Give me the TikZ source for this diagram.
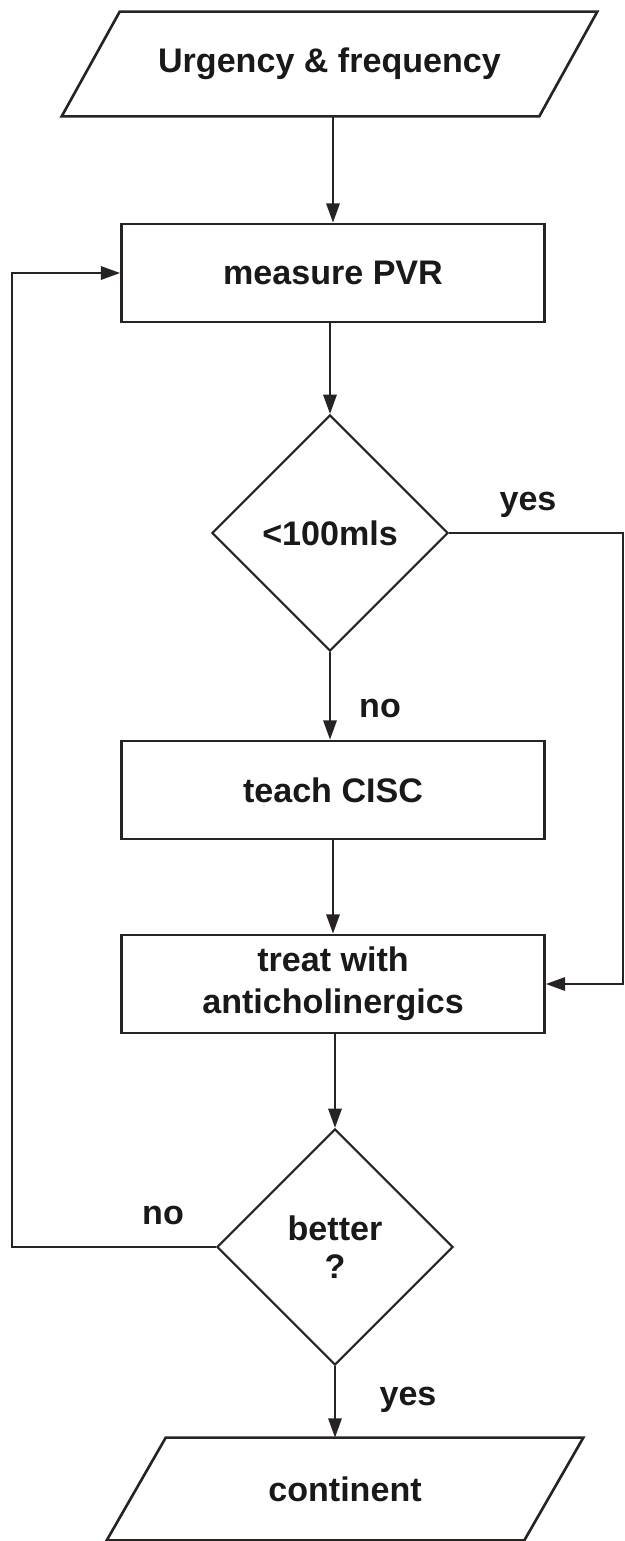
\documentclass[tikz,border=0pt]{standalone}
\usepackage{fontspec}
\setmainfont{Liberation Sans}
\usepackage{xcolor}
\usetikzlibrary{shapes.geometric, arrows.meta, positioning, calc}

\definecolor{inkline}{RGB}{40,35,35}
\definecolor{inktext}{RGB}{25,25,25}
\newcommand{\flowfont}{\fontsize{19.4}{24}\selectfont\bfseries}

\tikzset{
  iobox/.style={rectangle, minimum width=10.7cm, minimum height=2.08cm,
    text=inktext, font=\flowfont},
  ioline/.style={draw=inkline, line width=1.5pt, line join=miter},
  stepbox/.style={rectangle, draw=inkline, line width=1.5pt, minimum width=8.46cm,
    minimum height=1.96cm, align=center, text=inktext, font=\flowfont},
  askbox/.style={diamond, draw=inkline, line width=1.2pt, aspect=1, minimum width=4.72cm,
    minimum height=4.72cm, inner sep=0pt, align=center, text=inktext,
    font=\fontsize{19.4}{21.6}\selectfont\bfseries},
  flow/.style={draw=inkline, line width=1.5pt, -{Triangle[length=11pt,width=7.5pt]}},
  tag/.style={text=inktext, font=\flowfont}
}

\begin{document}
\begin{tikzpicture}[x=0.02cm, y=-0.02cm]
\useasboundingbox (0,0) rectangle (625,1541);
% Steps
\node[iobox] (urg) at (329.5,64) {Urgency \& frequency};
\node[stepbox] (pvr) at (333,273) {measure PVR};
\node[askbox] (vol) at (330,533) {<100mls};
\node[stepbox] (cisc) at (333,790) {teach CISC};
\node[stepbox] (anti) at (333,984) {treat with\\anticholinergics};
\node[askbox] (better) at (335,1247) {better\\?};
\node[iobox, minimum width=9.52cm, minimum height=2.04cm] (cont) at (345,1489) {continent};

% Slanted frames
\draw[ioline] (urg.south west) -- ($(urg.north west)+(58,0)$) -- (urg.north east)
  -- ($(urg.south east)+(-58,0)$) -- cycle;
\draw[ioline] (cont.south west) -- ($(cont.north west)+(59,0)$) -- (cont.north east)
  -- ($(cont.south east)+(-59,0)$) -- cycle;

% Side rails
\coordinate (rrail) at (623,533);
\coordinate (lrail) at (12,1247);

% Main column
\draw[flow] (pvr.north |- urg.south) -- (pvr.north);
\draw[flow] (vol.north |- pvr.south) -- (vol.north);
\draw[flow] (vol.south) -- (vol.south |- cisc.north);
\draw[flow] (cisc.south) -- (anti.north);
\draw[flow] (better.north |- anti.south) -- (better.north);
\draw[flow] (better.south) -- (better.south |- cont.north);

% Loops
\draw[flow] (vol.east) -- (rrail) |- (anti.east);
\draw[flow] (better.west) -- (lrail) |- (pvr.west);

% Answers
\node[tag] (yes1) at (528,505) {yes};
\node[tag] (no1) at (380,708) {no};
\node[tag] (no2) at (163,1215) {no};
\node[tag] (yes2) at (408,1400) {yes};
\end{tikzpicture}
\end{document}
